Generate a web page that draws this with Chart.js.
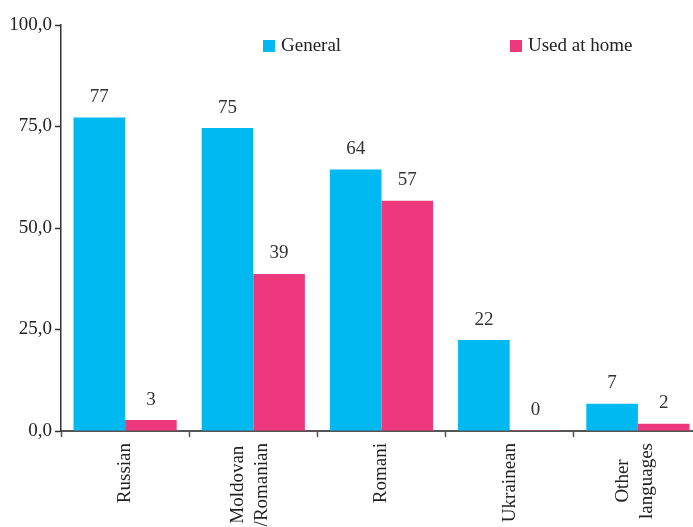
<!DOCTYPE html>
<html>
<head>
<meta charset="utf-8">
<script src="https://cdn.jsdelivr.net/npm/chart.js@4"></script>
<style>
  html, body { margin: 0; padding: 0; background: #fff; overflow: hidden; }
  #wrap { width: 705px; height: 527px; }
</style>
</head>
<body>
<div id="wrap"><canvas id="chart" width="705" height="527"></canvas></div>
<script>
// ===============================
// Data
// ===============================
const categories = [["Russian"], ["Moldovan", "/Romanian"], ["Romani"], ["Ukrainean"], ["Other", "languages"]];
const generalValues = [77.2, 74.6, 64.4, 22.4, 6.7];
const homeValues = [2.7, 38.7, 56.7, 0.2, 1.8];
const seriesNames = ["General", "Used at home"];
const yTicks = [0, 25, 50, 75, 100];

const blue = "#00b9f1";
const pink = "#ee387d";
const serif = "'Liberation Serif', 'DejaVu Serif', serif";

// ===============================
// Plugins
// ===============================
const valueLabels = {
  id: "valueLabels",
  afterDatasetsDraw(chart) {
    const ctx = chart.ctx;
    ctx.save();
    ctx.font = "19px " + serif;
    ctx.fillStyle = "#333";
    ctx.textAlign = "center";
    ctx.textBaseline = "bottom";
    chart.data.datasets.forEach((ds, i) => {
      chart.getDatasetMeta(i).data.forEach((bar, j) => {
        ctx.fillText(Math.round(ds.data[j]), bar.x, bar.y - 11);
      });
    });
    ctx.restore();
  },
};

const insideLegend = {
  id: "insideLegend",
  afterDraw(chart) {
    const ctx = chart.ctx;
    const left = chart.chartArea.left;
    const spots = [202, 449];
    ctx.save();
    ctx.font = "19px " + serif;
    ctx.textBaseline = "middle";
    chart.data.datasets.forEach((ds, i) => {
      const x = left + spots[i];
      ctx.fillStyle = ds.backgroundColor;
      ctx.fillRect(x, 40, 12, 12);
      ctx.fillStyle = "#222";
      ctx.fillText(ds.label, x + 18, 46);
    });
    ctx.restore();
  },
};

// rotated category names, lines centred on each other
const xNames = {
  id: "xNames",
  afterDraw(chart) {
    const ctx = chart.ctx;
    const sx = chart.scales.x;
    ctx.save();
    ctx.font = "19px " + serif;
    ctx.fillStyle = "#222";
    ctx.textAlign = "center";
    ctx.textBaseline = "middle";
    chart.data.labels.forEach((lines, i) => {
      const w = Math.max(...lines.map((t) => ctx.measureText(t).width));
      const x = sx.getPixelForTick(i);
      ctx.save();
      ctx.translate(x, sx.top + 12 + w / 2);
      ctx.rotate(-Math.PI / 2);
      lines.forEach((t, k) => {
        ctx.fillText(t, 0, (k - (lines.length - 1) / 2) * 24 - 3 * (lines.length - 1));
      });
      ctx.restore();
    });
    ctx.restore();
  },
};

// ===============================
// Chart
// ===============================
new Chart(document.getElementById("chart").getContext("2d"), {
  type: "bar",
  data: {
    labels: categories,
    datasets: [
      { label: seriesNames[0], data: generalValues, backgroundColor: blue },
      { label: seriesNames[1], data: homeValues, backgroundColor: pink },
    ],
  },
  options: {
    responsive: false,
    animation: false,
    layout: { padding: { top: 25, right: 3 } },
    datasets: { bar: { categoryPercentage: 0.805, barPercentage: 1.0 } },
    plugins: { legend: { display: false }, tooltip: { enabled: false } },
    scales: {
      x: {
        afterFit: (scale) => { scale.height = 96; },
        border: { color: "#555", width: 2 },
        grid: { drawOnChartArea: false, offset: true, tickLength: 6, color: "#555", tickWidth: 1.5 },
        ticks: { display: false },
      },
      y: {
        min: 0,
        max: 100,
        afterFit: (scale) => { scale.width = 61; },
        afterBuildTicks: (scale) => { scale.ticks = yTicks.map((v) => ({ value: v })); },
        border: { color: "#333", width: 1.5 },
        grid: { drawOnChartArea: false, tickLength: 6, color: "#333", tickWidth: 1.5 },
        ticks: {
          padding: 3,
          color: "#222",
          font: { family: serif, size: 19 },
          callback: (v) => v.toFixed(1).replace(".", ","),
        },
      },
    },
  },
  plugins: [valueLabels, insideLegend, xNames],
});
</script>
</body>
</html>
